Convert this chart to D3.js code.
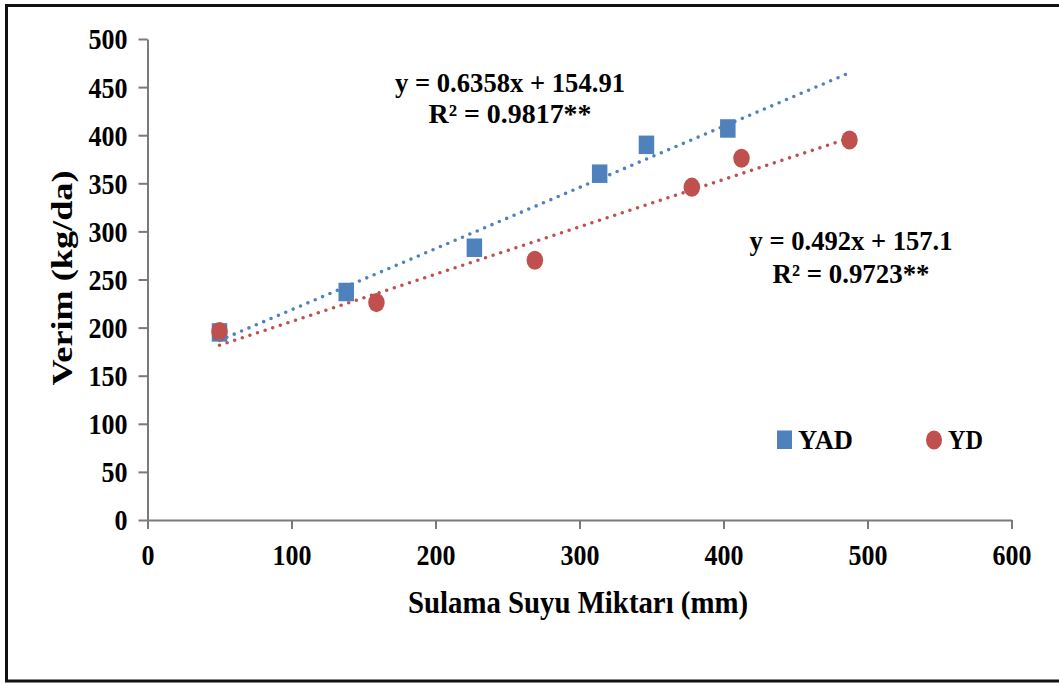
<!DOCTYPE html>
<html>
<head>
<meta charset="utf-8">
<script src="https://cdn.jsdelivr.net/npm/d3@7"></script>
<style>
  html, body { margin: 0; padding: 0; background: #fff; }
  svg { display: block; }
  text { font-family: "Liberation Serif", "Times New Roman", serif; font-weight: bold; fill: #000; }
</style>
</head>
<body>
<svg id="chart" width="1059" height="684"></svg>
<script>
// Irrigation water amount (mm) vs yield (kg/da)
const seriesNames = ["YAD", "YD"];
const yadWater = [50, 138, 227, 314, 346.5, 403];
const yadYield = [195, 237, 283, 360, 390, 407];
const ydWater = [50, 159, 269, 378, 412.5, 487.5];
const ydYield = [196, 226, 270, 346, 376, 395];

// Linear fits for each series
const slopes = [0.6358, 0.492];
const intercepts = [154.91, 157.1];
const r2Labels = ["0.9817", "0.9723"];
const significance = ["**", "**"];

const xTicks = [0, 100, 200, 300, 400, 500, 600];
const yTicks = [0, 50, 100, 150, 200, 250, 300, 350, 400, 450, 500];
const xTitle = "Sulama Suyu Miktarı (mm)";
const yTitle = "Verim (kg/da)";

const colors = ["#4F81BD", "#C0504D"];
const stretch = 1.13; // vertical stretch applied to horizontal text

const svg = d3.select("#chart");

// outer frame
svg.append("rect")
  .attr("x", 6.5).attr("y", 5.5)
  .attr("width", 1100).attr("height", 675.5)
  .attr("fill", "none").attr("stroke", "#111").attr("stroke-width", 3);

const x = d3.scaleLinear().domain([0, 600]).range([147.5, 1011.5]);
const y = d3.scaleLinear().domain([0, 500]).range([520, 39]);

// axes
const xAxis = svg.append("g")
  .attr("transform", `translate(0,${y(0)})`)
  .call(d3.axisBottom(x).tickValues(xTicks).tickSize(9).tickSizeOuter(0).tickFormat(d3.format("d")));
const yAxis = svg.append("g")
  .attr("transform", `translate(${x(0)},0)`)
  .call(d3.axisLeft(y).tickValues(yTicks).tickSize(9).tickSizeOuter(0).tickFormat(d3.format("d")));

[xAxis, yAxis].forEach(g => {
  g.select(".domain").attr("stroke", "#7a7a7a").attr("stroke-width", 2);
  g.selectAll(".tick line").attr("stroke", "#7a7a7a").attr("stroke-width", 2);
  g.selectAll("text").attr("font-size", 26).attr("fill", "#000")
    .style("font-family", "'Liberation Serif', 'Times New Roman', serif").style("font-weight", "bold");
});
xAxis.selectAll(".tick text")
  .attr("y", 0).attr("dy", 0)
  .attr("transform", `translate(0,45) scale(1,${stretch})`);
yAxis.selectAll(".tick text")
  .attr("x", 0).attr("dy", "0.34em")
  .attr("transform", `translate(-20,0) scale(1,${stretch})`);

// axis titles
function stretchedText(px, py, str, size, len, anchor) {
  const t = svg.append("text")
    .attr("x", 0).attr("y", 0)
    .attr("transform", `translate(${px},${py}) scale(1,${stretch})`)
    .attr("font-size", size)
    .attr("text-anchor", anchor || "middle")
    .text(str);
  if (len) t.attr("textLength", len).attr("lengthAdjust", "spacingAndGlyphs");
  return t;
}

stretchedText(578, 613, xTitle, 28, 340);

svg.append("text")
  .attr("transform", `translate(72,278) rotate(-90)`)
  .attr("font-size", 30)
  .attr("text-anchor", "middle")
  .attr("textLength", 215).attr("lengthAdjust", "spacingAndGlyphs")
  .text(yTitle);

// markers
const series = [
  { name: seriesNames[0], xs: yadWater, ys: yadYield, color: colors[0], shape: "square" },
  { name: seriesNames[1], xs: ydWater, ys: ydYield, color: colors[1], shape: "circle" }
];

const mw = 15.5, mh = 18.5;
series.forEach(s => {
  const pts = s.xs.map((v, i) => [v, s.ys[i]]);
  const g = svg.append("g");
  if (s.shape === "square") {
    g.selectAll("rect").data(pts).join("rect")
      .attr("x", d => x(d[0]) - mw / 2).attr("y", d => y(d[1]) - mh / 2)
      .attr("width", mw).attr("height", mh)
      .attr("fill", s.color);
  } else {
    g.selectAll("ellipse").data(pts).join("ellipse")
      .attr("cx", d => x(d[0])).attr("cy", d => y(d[1]))
      .attr("rx", mw / 2 + 0.5).attr("ry", mh / 2 + 0.3)
      .attr("fill", s.color);
  }
});

// dotted trendlines over the full water range
const allWater = yadWater.concat(ydWater);
const [xMin, xMax] = d3.extent(allWater);
const line = d3.line().x(d => x(d[0])).y(d => y(d[1]));
slopes.forEach((m, i) => {
  const b = intercepts[i];
  svg.append("path")
    .attr("d", line([[xMin, m * xMin + b], [xMax, m * xMax + b]]))
    .attr("fill", "none")
    .attr("stroke", colors[i])
    .attr("stroke-width", 3.6)
    .attr("stroke-linecap", "round")
    .attr("stroke-dasharray", "0 8");
});

// equation labels
const eqPos = [[510, 92, 230, 123, 163], [851, 250, 203, 283, 157]];
slopes.forEach((m, i) => {
  const [cx, y1, w1, y2, w2] = eqPos[i];
  stretchedText(cx, y1, `y = ${m}x + ${intercepts[i]}`, 24, w1);
  stretchedText(cx, y2, `R² = ${r2Labels[i]}${significance[i]}`, 24, w2);
});

// legend
const legend = svg.append("g");
legend.append("rect")
  .attr("x", 777).attr("y", 430.5).attr("width", 15).attr("height", 18.5)
  .attr("fill", colors[0]);
stretchedText(798, 449, seriesNames[0], 24, 55, "start");
legend.append("ellipse")
  .attr("cx", 934).attr("cy", 440).attr("rx", 8).attr("ry", 9.5)
  .attr("fill", colors[1]);
stretchedText(948, 449, seriesNames[1], 24, 35, "start");
</script>
</body>
</html>
